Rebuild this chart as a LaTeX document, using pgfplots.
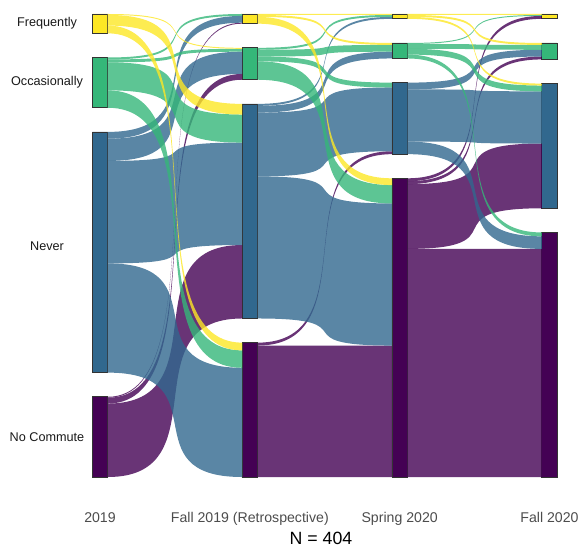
\documentclass[border=0pt]{standalone}
\usepackage{fontspec}
\setmainfont{Liberation Sans}
\usepackage{pgfplots}
\usepackage{pgfplotstable}
\pgfplotsset{compat=1.18}

\definecolor{vyellow}{HTML}{FDE725}
\definecolor{vgreen}{HTML}{35B779}
\definecolor{vblue}{HTML}{31688E}
\definecolor{vpurple}{HTML}{440154}
\colorlet{flowcol1}{vyellow}
\colorlet{flowcol2}{vgreen}
\colorlet{flowcol3}{vblue}
\colorlet{flowcol4}{vpurple}

% strata sizes (respondents) per survey wave, N = 404
\pgfplotstableread{
stage F O N NC gap
1 20 52 249 83 25
2 10 33 222 139 25
3 5 16 74 309 25
4 5 17 129 253 25
}\strata

% transition matrices: rows = from (Frequently, Occasionally, Never, No Commute),
% columns = to (same order)
\def\setrow#1#2#3,#4,#5,#6\relax{%
  \expandafter\def\csname m#1.#2.1\endcsname{#3}%
  \expandafter\def\csname m#1.#2.2\endcsname{#4}%
  \expandafter\def\csname m#1.#2.3\endcsname{#5}%
  \expandafter\def\csname m#1.#2.4\endcsname{#6}}
\newcommand\trans[5]{\setrow{#1}{1}#2\relax\setrow{#1}{2}#3\relax
  \setrow{#1}{3}#4\relax\setrow{#1}{4}#5\relax}
% 2019 -> Fall 2019 (Retrospective)
\trans{1}{0,1,11,8}{2,3,29,18}{7,23,106,113}{1,6,76,0}
% Fall 2019 -> Spring 2020
\trans{2}{1,2,0,7}{2,7,5,19}{2,7,66,147}{0,0,3,136}
% Spring 2020 -> Fall 2020
\trans{3}{1,2,2,0}{1,5,6,4}{0,7,54,13}{3,3,67,236}

\def\Ytop{479}
\def\gap{25}
\def\hw{0.0515}
\def\ka{0.85}
\def\m#1#2#3{\csname m#1.#2.#3\endcsname}
\def\rowsum#1#2{(\m{#1}{#2}{1}+\m{#1}{#2}{2}+\m{#1}{#2}{3}+\m{#1}{#2}{4})}
\def\colsum#1#2{(\m{#1}{1}{#2}+\m{#1}{2}{#2}+\m{#1}{3}{#2}+\m{#1}{4}{#2})}
\def\srctop#1#2{(\Ytop-(\ifnum#2>1 \rowsum{#1}{1}\else 0\fi+\ifnum#2>2 \rowsum{#1}{2}\else 0\fi+\ifnum#2>3 \rowsum{#1}{3}\else 0\fi)-(#2-1)*\gap)}
\def\tgttop#1#2{(\Ytop-(\ifnum#2>1 \colsum{#1}{1}\else 0\fi+\ifnum#2>2 \colsum{#1}{2}\else 0\fi+\ifnum#2>3 \colsum{#1}{3}\else 0\fi)-(#2-1)*\gap)}
\def\rowbefore#1#2#3{(\ifnum#3>1 \m{#1}{#2}{1}\else 0\fi+\ifnum#3>2 \m{#1}{#2}{2}\else 0\fi+\ifnum#3>3 \m{#1}{#2}{3}\else 0\fi)}
\def\colbefore#1#2#3{(\ifnum#3>1 \m{#1}{1}{#2}\else 0\fi+\ifnum#3>2 \m{#1}{2}{#2}\else 0\fi+\ifnum#3>3 \m{#1}{3}{#2}\else 0\fi)}

\begin{document}
\begin{tikzpicture}
\begin{axis}[
  scale only axis, width=437.25pt, height=375pt,
  xmin=0.33258, xmax=4.22366, ymin=-23.79, ymax=493.48,
  axis x line*=bottom, axis y line=none,
  axis line style={draw=none}, major tick length=0pt,
  ytick=\empty, xtick={1,2,3,4},
  xticklabels={2019,Fall 2019 (Retrospective),Spring 2020,Fall 2020},
  xticklabel style={font=\fontsize{10.6}{12}\selectfont, text=black!70, anchor=base, yshift=-16.5pt},
  xlabel={N = 404},
  xlabel style={at={(rel axis cs:0.5506,0)}, anchor=base, yshift=-33pt, font=\fontsize{13.3}{15}\selectfont},
  ybar stacked, bar width=0.103,
  clip=false,
]
\foreach \s in {1,2,3}{%
 \foreach \i in {1,...,4}{%
  \foreach \j in {1,...,4}{%
   \edef\val{\m{\s}{\i}{\j}}%
   \ifnum\val>0\relax
    \edef\yA{\the\numexpr\srctop{\s}{\i}-\rowbefore{\s}{\i}{\j}\relax}%
    \edef\yB{\the\numexpr\yA-\val\relax}%
    \edef\yC{\the\numexpr\tgttop{\s}{\j}-\colbefore{\s}{\j}{\i}\relax}%
    \edef\yD{\the\numexpr\yC-\val\relax}%
    \pgfmathsetmacro\xa{\s+\hw}%
    \pgfmathsetmacro\xb{\s+1-\hw}%
    \pgfmathsetmacro\xc{\xa+\ka*(\xb-\xa)}%
    \pgfmathsetmacro\xd{\xb-\ka*(\xb-\xa)}%
    \edef\tmp{\noexpand\fill[flowcol\i,fill opacity=0.8] (axis cs:\xa,\yA) .. controls (axis cs:\xc,\yA) and (axis cs:\xd,\yC) .. (axis cs:\xb,\yC) -- (axis cs:\xb,\yD) .. controls (axis cs:\xd,\yD) and (axis cs:\xc,\yB) .. (axis cs:\xa,\yB) -- cycle;}%
    \tmp
   \fi}}}
\addplot[fill=vpurple, draw=black!80, line width=0.5pt] table[x=stage,y=NC]{\strata};
\addplot[fill=none, draw=none] table[x=stage,y=gap]{\strata};
\addplot[fill=vblue, draw=black!80, line width=0.5pt] table[x=stage,y=N]{\strata};
\addplot[fill=none, draw=none] table[x=stage,y=gap]{\strata};
\addplot[fill=vgreen, draw=black!80, line width=0.5pt] table[x=stage,y=O]{\strata};
\addplot[fill=none, draw=none] table[x=stage,y=gap]{\strata};
\addplot[fill=vyellow, draw=black!80, line width=0.5pt] table[x=stage,y=F]{\strata};
\node[font=\fontsize{9.5}{11}\selectfont, text=black!90] at (axis cs:0.6463,469) {Frequently};
\node[font=\fontsize{9.5}{11}\selectfont, text=black!90] at (axis cs:0.6463,408) {Occasionally};
\node[font=\fontsize{9.5}{11}\selectfont, text=black!90] at (axis cs:0.6463,239) {Never};
\node[font=\fontsize{9.5}{11}\selectfont, text=black!90] at (axis cs:0.6463,41.5) {No Commute};
\end{axis}
\pgfresetboundingbox
\path[use as bounding box] (current axis.south west) ++(0,-35.25pt) rectangle (current axis.north east);
\end{tikzpicture}
\end{document}
